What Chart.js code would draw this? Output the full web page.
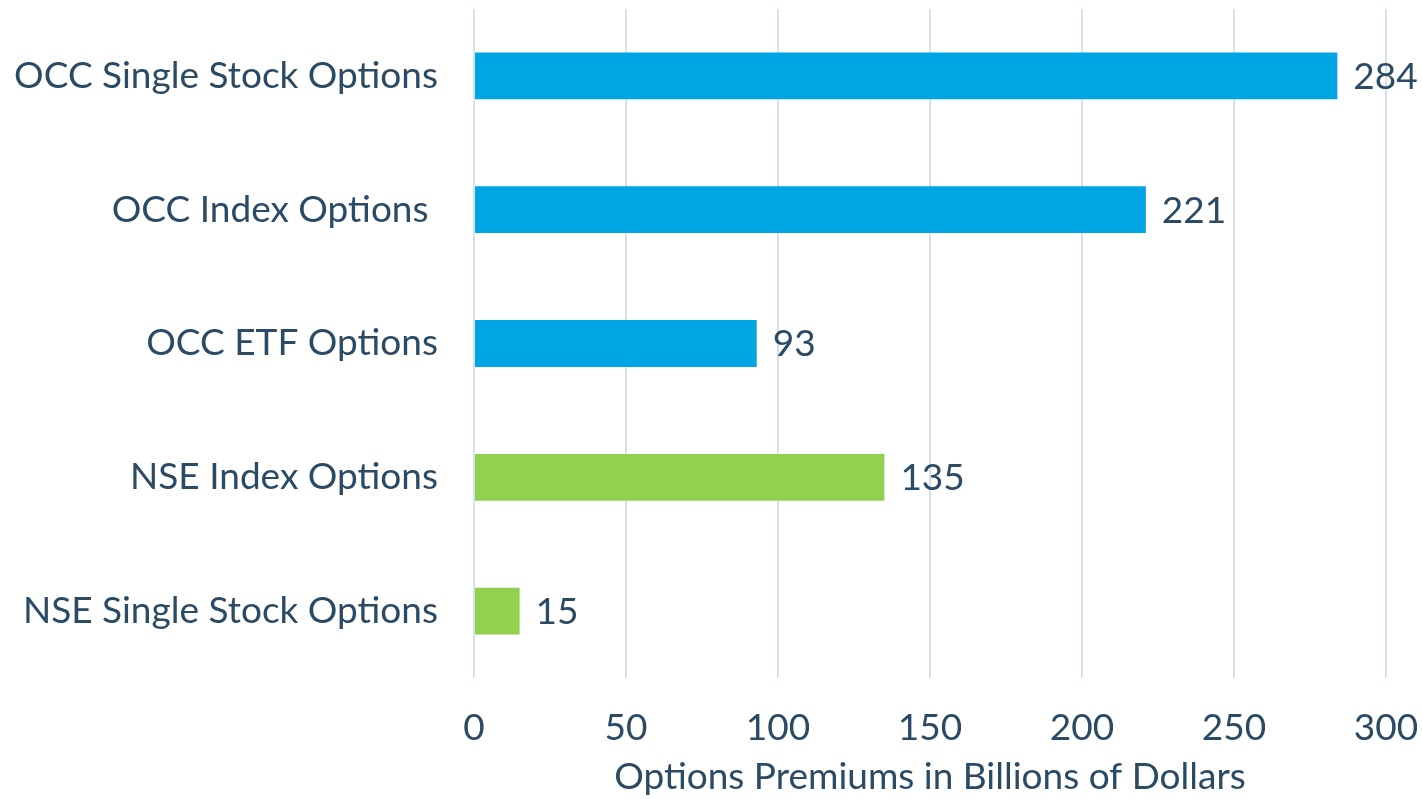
<!DOCTYPE html>
<html>
<head>
<meta charset="utf-8">
<script src="https://cdn.jsdelivr.net/npm/chart.js@4"></script>
<style>
html,body{margin:0;padding:0;background:#fff;}
#wrap{width:1422px;height:799px;position:relative;}
</style>
</head>
<body>
<div id="wrap"><canvas id="c" width="1422" height="799"></canvas></div>
<script>
const categories = ["OCC Single Stock Options", "OCC Index Options ", "OCC ETF Options", "NSE Index Options", "NSE Single Stock Options"];
const premiums = [284, 221, 93, 135, 15];
const barColors = ["#00A5E3", "#00A5E3", "#00A5E3", "#92D050", "#92D050"];
const xTicks = [0, 50, 100, 150, 200, 250, 300];
const xTitle = "Options Premiums in Billions of Dollars";

const textColor = "#2B4A64";
const FONT = "Lato, 'Open Sans', sans-serif";
const FS = 37;

const valueLabels = {
  id: "valueLabels",
  afterDatasetsDraw(chart) {
    const ctx = chart.ctx;
    const meta = chart.getDatasetMeta(0);
    ctx.save();
    ctx.font = FS + "px " + FONT;
    ctx.fillStyle = textColor;
    ctx.textAlign = "left";
    ctx.textBaseline = "middle";
    meta.data.forEach((bar, i) => {
      ctx.fillText(String(premiums[i]), bar.x + 16, bar.y + 1);
    });
    ctx.restore();
  }
};

new Chart(document.getElementById("c"), {
  type: "bar",
  data: {
    labels: categories,
    datasets: [{
      data: premiums,
      backgroundColor: barColors,
      borderWidth: 0,
      barPercentage: 0.35,
      categoryPercentage: 1.0
    }]
  },
  options: {
    indexAxis: "y",
    responsive: false,
    animation: false,
    devicePixelRatio: 1,
    layout: { padding: { top: 9, right: 36, left: 0, bottom: 0 } },
    plugins: { legend: { display: false }, tooltip: { enabled: false } },
    scales: {
      x: {
        min: 0, max: 300,
        afterBuildTicks(scale) { scale.ticks = xTicks.map(v => ({ value: v })); },
        afterFit(scale) { scale.height = 121; scale.paddingLeft = 0; scale.paddingRight = 0; },
        grid: { color: "#D9E2EC", lineWidth: 2, drawTicks: false },
        border: { display: false },
        ticks: { color: textColor, font: { family: FONT, size: FS }, padding: 28 },
        title: { display: true, text: xTitle, color: textColor, font: { family: FONT, size: FS }, padding: { top: 0, bottom: 0 } }
      },
      y: {
        afterFit(scale) { scale.width = 474; scale.paddingTop = 0; scale.paddingBottom = 0; },
        grid: { display: false, drawTicks: false },
        border: { display: false },
        ticks: { color: textColor, font: { family: FONT, size: FS }, padding: 36 }
      }
    }
  },
  plugins: [valueLabels]
});
</script>
</body>
</html>
